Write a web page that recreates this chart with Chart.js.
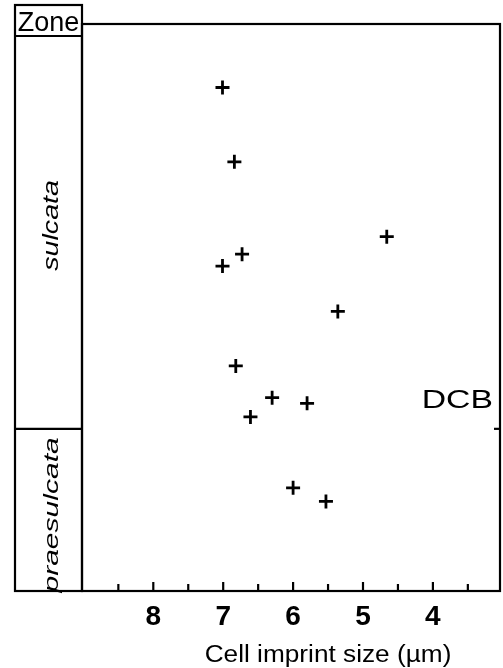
<!DOCTYPE html>
<html><head><meta charset="utf-8">
<script src="https://cdn.jsdelivr.net/npm/chart.js@4/dist/chart.umd.min.js"></script>
<style>html,body{margin:0;padding:0;background:#fff;}#wrap{width:503px;height:668px;position:relative;}canvas{display:block;}</style>
</head><body><div id="wrap"><canvas id="c" width="503" height="668"></canvas></div>
<script>
// ---- data ----
const cellSize = [7.01, 6.84, 4.66, 6.73, 7.01, 5.36, 6.82, 6.30, 5.80, 6.61, 6.00, 5.53];
const position = [88.8, 75.7, 62.5, 59.4, 57.3, 49.3, 39.7, 34.1, 33.1, 30.7, 18.2, 15.8];
const majorTicks = [8, 7, 6, 5, 4];
const minorTicks = [8.5, 7.5, 6.5, 5.5, 4.5, 3.5];
const zoneNames = ['sulcata', 'praesulcata'];
const zoneBases = [28.6, 0];
const boundaryLabel = 'DCB';
const xTitle = 'Cell imprint size (µm)';
const zoneHeader = 'Zone';

const FONT = "'Liberation Sans', Arial, Helvetica, sans-serif";

function drawText(ctx, txt, x, y, opts) {
  ctx.save();
  ctx.translate(x, y);
  if (opts.rot) ctx.rotate(opts.rot);
  ctx.scale(opts.sx || 1, 1);
  ctx.font = opts.font;
  ctx.textAlign = opts.align || 'center';
  ctx.textBaseline = 'alphabetic';
  ctx.fillStyle = '#000';
  ctx.fillText(txt, 0, opts.dy || 0);
  ctx.restore();
}

const decor = {
  id: 'decor',
  afterDraw(chart) {
    const {ctx, chartArea: a, scales: {x, y}} = chart;
    const line = (x1, y1, x2, y2) => { ctx.beginPath(); ctx.moveTo(x1, y1); ctx.lineTo(x2, y2); ctx.stroke(); };
    ctx.save();
    ctx.strokeStyle = '#000';
    ctx.lineWidth = 2.2;
    // plot frame
    ctx.strokeRect(a.left, a.top, a.right - a.left, a.bottom - a.top);
    // zone column
    const colL = 15, colR = a.left, colTop = a.top - 19, headBot = a.top + 12;
    ctx.strokeRect(colL, colTop, colR - colL, a.bottom - colTop);
    line(colL, headBot, colR, headBot);
    // zone boundaries
    const bounds = [];
    zoneBases.forEach((b, i) => {
      const py = y.getPixelForValue(b);
      bounds.push(py);
      if (b > y.min) { line(colL, py, colR, py); line(a.right - 6, py, a.right, py); }
    });
    // x ticks (inside)
    majorTicks.forEach(v => { const px = x.getPixelForValue(v); line(px, a.bottom, px, a.bottom - 9); });
    minorTicks.forEach(v => { const px = x.getPixelForValue(v); line(px, a.bottom, px, a.bottom - 7); });
    ctx.restore();
    // texts
    const cx = (colL + colR) / 2;
    drawText(ctx, zoneHeader, cx, a.top + 7, {font: `27px ${FONT}`});
    const shifts = [-7, 5];
    const stretch = [1.3, 1.43];
    const sizes = [22, 21];
    zoneNames.forEach((n, i) => {
      const top = i === 0 ? headBot : bounds[i - 1];
      const bot = bounds[i];
      const cy = (top + bot) / 2 + shifts[i];
      drawText(ctx, n, cx + 1, cy, {font: `italic ${sizes[i]}px ${FONT}`, rot: -Math.PI / 2, sx: stretch[i], dy: 8});
    });
    drawText(ctx, boundaryLabel, a.right - 7, bounds[0] - 21, {font: `25px ${FONT}`, sx: 1.35, align: 'right'});
    drawText(ctx, xTitle, (a.left + a.right) / 2 + 37, chart.height - 6, {font: `23px ${FONT}`, sx: 1.14});
  }
};

new Chart(document.getElementById('c'), {
  type: 'scatter',
  data: {
    datasets: [{
      data: cellSize.map((v, i) => ({x: v, y: position[i]})),
      pointStyle: 'cross',
      pointRadius: 7,
      pointBorderWidth: 2.8,
      borderColor: '#000',
      backgroundColor: '#000',
      pointHoverRadius: 7
    }]
  },
  options: {
    responsive: false,
    animation: false,
    events: [],
    layout: {autoPadding: false, padding: {left: 82, right: 3, top: 24, bottom: 0}},
    plugins: {legend: {display: false}, tooltip: {enabled: false}},
    scales: {
      x: {
        type: 'linear', reverse: true, min: 3.04, max: 9.02, position: 'bottom',
        grid: {display: false, drawTicks: false},
        border: {display: false},
        afterBuildTicks: s => { s.ticks = majorTicks.map(v => ({value: v})); },
        afterFit: s => { s.height = 77; s.paddingLeft = 0; s.paddingRight = 0; },
        ticks: {
          padding: 9, autoSkip: false, maxRotation: 0, minRotation: 0, color: '#000',
          font: {family: FONT, size: 28, weight: 'bold'},
          callback: v => String(v)
        }
      },
      y: {type: 'linear', min: 0, max: 100, display: false}
    }
  },
  plugins: [decor]
});
</script>
</body></html>
